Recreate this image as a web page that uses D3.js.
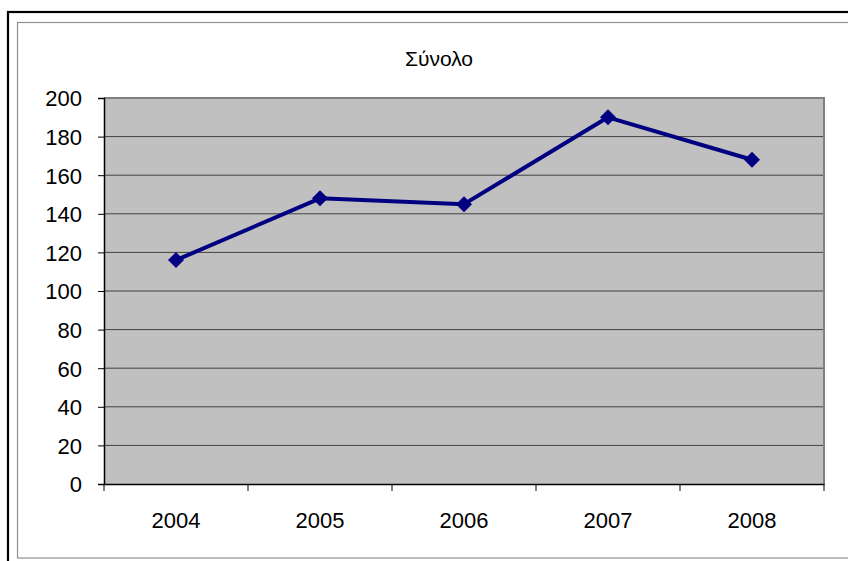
<!DOCTYPE html>
<html><head><meta charset="utf-8">
<script src="https://cdn.jsdelivr.net/npm/d3@7"></script>
<style>body{margin:0;background:#fff;}svg{display:block;font-family:"Liberation Sans",Arial,sans-serif;}</style>
</head><body>
<script>
const categories = ["2004","2005","2006","2007","2008"];
const values = [116,148,145,190,168];
const yTicks = [0,20,40,60,80,100,120,140,160,180,200];
const title = "Σύνολο";

const W=848,H=561;
const svg=d3.select("body").append("svg").attr("width",W).attr("height",H);
svg.append("rect").attr("width",W).attr("height",H).attr("fill","#fff");
// outer borders
svg.append("rect").attr("x",8).attr("y",12).attr("width",900).attr("height",700)
  .attr("fill","none").attr("stroke","#000").attr("stroke-width",2.2);
svg.append("rect").attr("x",17.5).attr("y",22.5).attr("width",900).attr("height",535.5)
  .attr("fill","none").attr("stroke","#909090").attr("stroke-width",1.2);

const L=104,R=824,T=98,B=484;
const x=d3.scaleBand().domain(categories).range([L,R]);
const y=d3.scaleLinear().domain([0,200]).range([B,T]);
const FS=22;

svg.append("rect").attr("x",L).attr("y",T).attr("width",R-L).attr("height",B-T).attr("fill","#c0c0c0");
// gridlines
svg.append("g").selectAll("line").data(yTicks.filter(d=>d>0&&d<200)).join("line")
  .attr("x1",L).attr("x2",R).attr("y1",d=>y(d)).attr("y2",d=>y(d))
  .attr("stroke","#404040").attr("stroke-width",1);
// plot border top/right
svg.append("path").attr("d",`M${L},${T}H${R}V${B}`).attr("fill","none").attr("stroke","#808080").attr("stroke-width",2);

// y axis
const ya=svg.append("g").attr("transform",`translate(${L},0)`)
  .call(d3.axisLeft(y).tickValues(yTicks).tickSize(6).tickPadding(16));
ya.select(".domain").attr("stroke","#000").attr("stroke-width",1.5);
ya.selectAll(".tick line").attr("stroke","#000");
ya.selectAll("text").attr("font-size",FS).attr("fill","#000").attr("font-family","Liberation Sans, Arial, sans-serif").attr("dy","0.36em");

// x axis
const xa=svg.append("g").attr("transform",`translate(0,${B})`)
  .call(d3.axisBottom(x).tickSize(0).tickPadding(28));
xa.select(".domain").attr("stroke","#000").attr("stroke-width",1.5);
xa.selectAll("text").attr("font-size",FS).attr("fill","#000").attr("font-family","Liberation Sans, Arial, sans-serif");
const bounds=categories.map(c=>x(c)).concat([x(categories[categories.length-1])+x.bandwidth()]);
svg.append("g").selectAll("line").data(bounds).join("line")
  .attr("x1",d=>d).attr("x2",d=>d).attr("y1",B).attr("y2",B+7).attr("stroke","#000");

// line
const cx=c=>x(c)+x.bandwidth()/2;
svg.append("path").datum(categories.map((c,i)=>[cx(c),y(values[i])]))
  .attr("d",d3.line()).attr("fill","none").attr("stroke","#000080").attr("stroke-width",4).attr("stroke-linejoin","round");
svg.append("g").selectAll("path").data(categories).join("path")
  .attr("transform",(c,i)=>`translate(${cx(c)},${y(values[i])})`)
  .attr("d","M0,-8L8,0L0,8L-8,0Z").attr("fill","#000080");

svg.append("text").attr("x",439).attr("y",66).attr("text-anchor","middle")
  .attr("font-size",21).attr("fill","#000").text(title);
</script>
</body></html>
